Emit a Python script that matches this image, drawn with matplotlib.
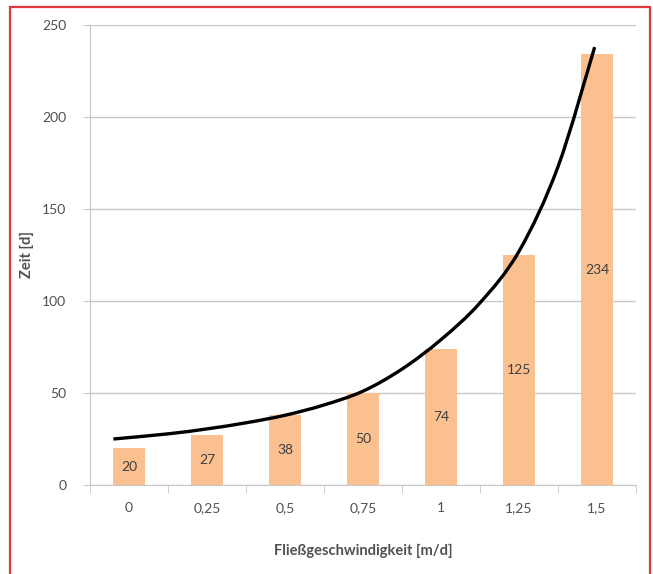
import numpy as np
import matplotlib.pyplot as plt
from matplotlib.patches import Rectangle, PathPatch
from matplotlib.path import Path

plt.rcParams['font.family'] = ['Lato', 'DejaVu Sans']

# data
speeds = ["0", "0,25", "0,5", "0,75", "1", "1,25", "1,5"]
days = [20, 27, 38, 50, 74, 125, 234]

# trend curve (x in category units)
curve_x = [-0.2, 0.5, 1, 1.5, 2, 2.5, 3, 3.5, 4, 4.5, 5, 5.5, 5.97]
curve_y = [25, 27.8, 30.5, 33.8, 37.9, 43.5, 51, 63, 79, 99, 127, 173, 238]

BAR_COLOR = "#FAC090"
GRID_COLOR = "#C8C8C8"
TEXT_COLOR = "#505050"


def smooth_path(xs, ys):
    # Catmull-Rom style bezier segments, like a "smoothed line"
    pts = np.column_stack([xs, ys])
    verts = [pts[0]]
    codes = [Path.MOVETO]
    n = len(pts)
    for i in range(n - 1):
        p0 = pts[max(i - 1, 0)]
        p1 = pts[i]
        p2 = pts[i + 1]
        p3 = pts[min(i + 2, n - 1)]
        c1 = p1 + (p2 - p0) / 6
        c2 = p2 - (p3 - p1) / 6
        verts += [c1, c2, p2]
        codes += [Path.CURVE4] * 3
    return Path(verts, codes)


fig = plt.figure(figsize=(6.53, 5.74), dpi=100)
ax = fig.add_axes([90 / 653, 1 - 485 / 574, 546 / 653, 460 / 574])

x = np.arange(len(days))
ax.bar(x, days, width=0.42, color=BAR_COLOR, zorder=2)

for xi, v in zip(x, days):
    ax.text(xi, v / 2, str(v), ha="center", va="center",
            fontsize=10, color="#404040", zorder=4)

ax.add_patch(PathPatch(smooth_path(curve_x, curve_y), fill=False,
                       edgecolor="black", lw=2.4, zorder=3,
                       capstyle="butt"))

ax.set_xlim(-0.5, len(days) - 0.5)
ax.set_ylim(0, 250)
ax.set_yticks(range(0, 251, 50))
ax.set_xticks(x)
ax.set_xticklabels(speeds)
ax.set_xticks(np.arange(-0.5, len(days), 1), minor=True)
ax.tick_params(axis="x", which="major", length=0, pad=12, labelsize=10,
               labelcolor=TEXT_COLOR)
ax.tick_params(axis="x", which="minor", length=6, color=GRID_COLOR)
ax.tick_params(axis="y", length=5, color=GRID_COLOR, labelsize=10,
               labelcolor=TEXT_COLOR, pad=12)

ax.grid(axis="y", color=GRID_COLOR, lw=1, zorder=0)
ax.set_axisbelow(True)
for side in ["top", "right"]:
    ax.spines[side].set_visible(False)
for side in ["left", "bottom"]:
    ax.spines[side].set_color(GRID_COLOR)

ax.set_xlabel("Fließgeschwindigkeit [m/d]", fontsize=10.5, fontweight="bold",
              color=TEXT_COLOR, labelpad=22)
ax.set_ylabel("Zeit [d]", fontsize=10.5, fontweight="bold", color=TEXT_COLOR,
              labelpad=6)

# red frame around the figure
fig.patches.append(Rectangle((10 / 653, -0.05), 640 / 653, 1 - 7 / 574 + 0.05,
                             transform=fig.transFigure, fill=False,
                             edgecolor="#E2383F", lw=1.6))

fig.savefig("out.png", dpi=100)
